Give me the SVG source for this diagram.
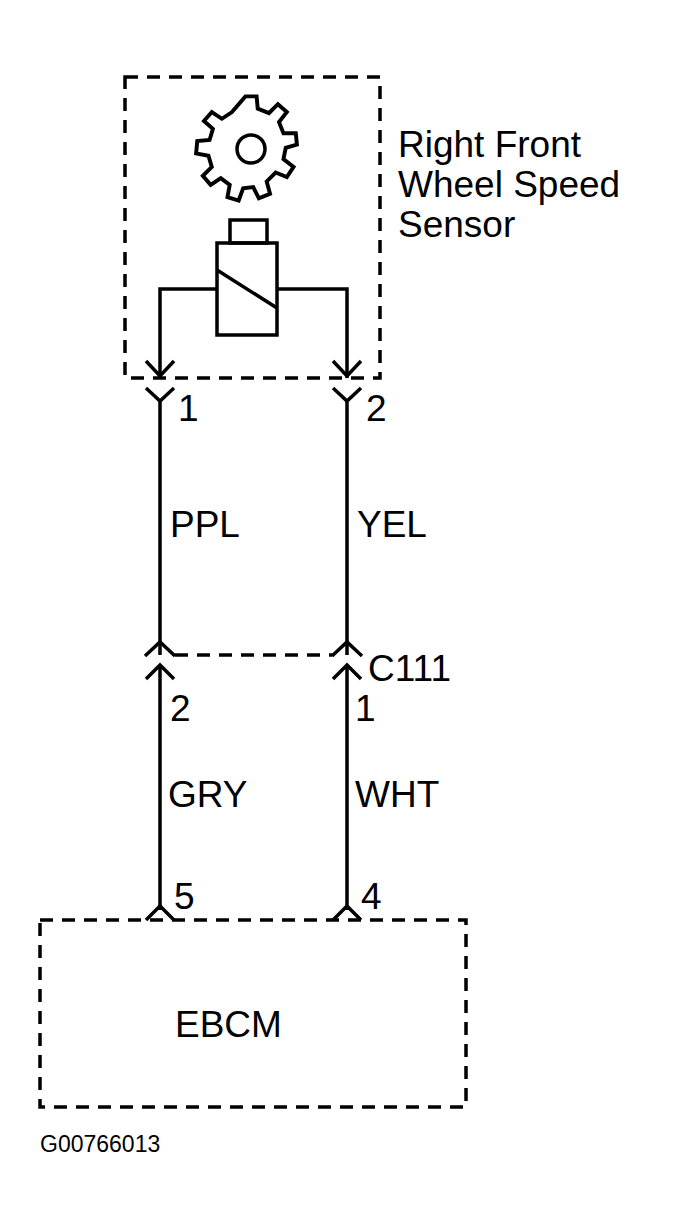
<svg xmlns="http://www.w3.org/2000/svg" width="674" height="1230" viewBox="0 0 674 1230">
<style>
.w{stroke:#000;stroke-width:3.5;fill:none}
.d{stroke:#000;stroke-width:3.5;fill:none;stroke-dasharray:13,9}
.t{font-family:"Liberation Sans",Arial,sans-serif;font-size:37px;fill:#000}
</style>
<rect width="674" height="1230" fill="#fff"/>
<g id="sensor">
<rect class="d" x="125" y="77" width="255" height="301"/>
<path class="w" transform="translate(251,149) scale(1.12) translate(-251,-149)" d="M246,102 L256,102 L257,113 L267,117 L275,109 L283,116 L276,125 L280,135 L291,135 L292,145 L282,148 L280,158 L289,165 L283,174 L273,170 L265,178 L268,189 L258,193 L253,183 L244,184 L240,195 L230,192 L232,181 L224,175 L215,181 L208,173 L216,165 L213,155 L202,153 L203,142 L214,141 L217,131 L209,124 L216,116 L225,122 L234,116 Z"/>
<circle class="w" cx="251" cy="149" r="14"/>
<rect class="w" x="230" y="220" width="37" height="23"/>
<rect class="w" x="217" y="243" width="60" height="92"/>
<line class="w" x1="217" y1="270" x2="277" y2="308"/>
<text class="t" x="398" y="157">Right Front</text>
<text class="t" x="398" y="197">Wheel Speed</text>
<text class="t" x="398" y="237">Sensor</text>
</g>
<g id="ebcm">
<rect class="d" x="40" y="920" width="426" height="187"/>
<text class="t" x="175" y="1037">EBCM</text>
</g>
<g id="connectors">
<path class="w" d="M217,289 H160 V378 M277,289 H347 V378"/>
<path class="w" d="M146,361 L160,376 L174,361 M333,361 L347,376 L361,361"/>
<path class="w" d="M146,388 L160,401 L174,388 M333,388 L347,401 L361,388"/>
<path class="w" d="M160,401 V655 M347,401 V655"/>
<path class="w" d="M145,656 L160,642 L175,656 M332,656 L347,642 L362,656"/>
<line class="d" x1="175" y1="655" x2="332" y2="655"/>
<path class="w" d="M146,679 L160,665 L174,679 M333,679 L347,665 L361,679"/>
<path class="w" d="M160,665 V910 M347,665 V910"/>
<path class="w" d="M146,920 L160,906 L174,920 M333,920 L347,906 L361,920"/>
<text class="t" x="178" y="421">1</text>
<text class="t" x="366" y="421">2</text>
<text class="t" x="170" y="537">PPL</text>
<text class="t" x="357" y="537">YEL</text>
<text class="t" x="368" y="681">C111</text>
<text class="t" x="170" y="721">2</text>
<text class="t" x="355" y="721">1</text>
<text class="t" x="168" y="807">GRY</text>
<text class="t" x="355" y="807">WHT</text>
<text class="t" x="174" y="909">5</text>
<text class="t" x="361" y="909">4</text>
</g>
<text x="40" y="1152" style="font-family:'Liberation Sans',Arial,sans-serif;font-size:23px">G00766013</text>
</svg>
